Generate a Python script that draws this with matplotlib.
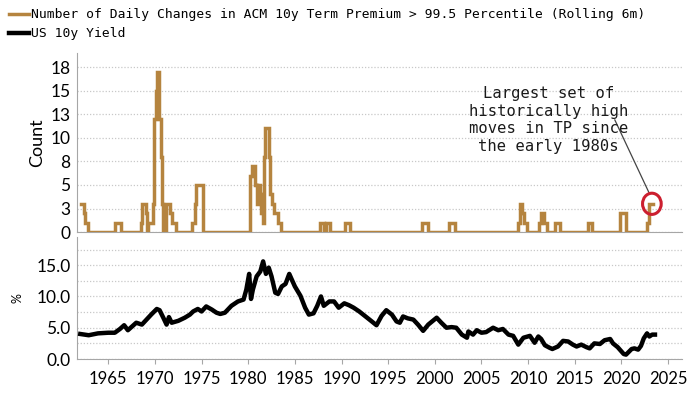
import matplotlib.pyplot as plt
from matplotlib.patches import Ellipse
import numpy as np

# count of daily changes above the 99.5 pct (step series, value holds until next year)
tp_years = [1962.1, 1962.35, 1962.55, 1962.8, 1965.75, 1966.35, 1968.55, 1968.65, 1969.0, 1969.15,
            1969.3, 1969.75, 1969.85, 1969.95, 1970.1, 1970.25, 1970.45, 1970.6, 1970.75, 1970.9,
            1971.2, 1971.65, 1971.8, 1972.3, 1974.0, 1974.3, 1974.45, 1975.15,
            1980.2, 1980.45, 1980.7, 1980.95, 1981.1, 1981.25, 1981.4, 1981.55, 1981.65, 1981.8,
            1982.2, 1982.35, 1982.55, 1982.8, 1983.15, 1983.5,
            1987.7, 1988.15, 1988.35, 1988.8, 1990.4, 1990.95, 1998.6, 1999.3, 2001.5, 2002.2,
            2008.9, 2009.1, 2009.4, 2009.6, 2009.9, 2011.2, 2011.35, 2011.7, 2012.0, 2012.9, 2013.4,
            2016.4, 2016.9, 2019.9, 2020.5, 2022.75, 2022.95, 2023.35]
tp_counts = [3, 2, 1, 0, 1, 0, 1, 3, 2, 0,
             1, 3, 8, 12, 15, 17, 12, 8, 3, 0,
             3, 2, 1, 0, 1, 3, 5, 0,
             6, 7, 5, 3, 5, 4, 2, 1, 8, 11,
             8, 4, 3, 2, 1, 0,
             1, 0, 1, 0, 1, 0, 1, 0, 1, 0,
             1, 3, 2, 1, 0, 1, 2, 1, 0, 1, 0,
             1, 0, 2, 0, 1, 3, 3]

count_ticks = [0, 2.5, 5, 7.5, 10, 12.5, 15, 17.5]
count_tick_labels = ["0", "3", "5", "8", "10", "13", "15", "18"]

# US 10y yield
yield_years = [1962.0, 1962.9, 1963.9, 1965.0, 1965.7, 1966.25, 1966.7, 1967.1, 1967.7, 1968.0,
               1968.6, 1969.1, 1969.6, 1970.2, 1970.5, 1970.9, 1971.25, 1971.5, 1971.8, 1972.5,
               1973.2, 1973.75, 1974.1, 1974.6, 1975.0, 1975.5, 1976.1, 1976.6, 1977.0, 1977.5,
               1978.2, 1978.9, 1979.5, 1979.8, 1980.1, 1980.3, 1980.5, 1980.9, 1981.3, 1981.6,
               1981.9, 1982.2, 1982.5, 1982.9, 1983.2, 1983.6, 1984.0, 1984.4, 1984.7, 1985.0,
               1985.6, 1986.1, 1986.5, 1987.0, 1987.4, 1987.8, 1988.1, 1988.7, 1989.2, 1989.7,
               1990.3, 1990.8, 1991.3, 1991.9, 1992.5, 1993.0, 1993.75, 1994.3, 1994.8, 1995.4,
               1995.9, 1996.25, 1996.6, 1997.1, 1997.7, 1998.2, 1998.75, 1999.3, 1999.8, 2000.2,
               2000.7, 2001.25, 2001.8, 2002.3, 2002.9, 2003.45, 2003.6, 2004.1, 2004.5, 2005.0,
               2005.5, 2006.25, 2006.8, 2007.3, 2007.9, 2008.4, 2008.95, 2009.5, 2010.2, 2010.7,
               2011.1, 2011.4, 2011.8, 2012.3, 2012.6, 2013.2, 2013.75, 2014.3, 2014.8, 2015.2,
               2015.7, 2016.25, 2016.6, 2017.1, 2017.7, 2018.2, 2018.8, 2019.1, 2019.6, 2020.25,
               2020.5, 2021.1, 2021.4, 2021.8, 2022.1, 2022.4, 2022.75, 2023.0, 2023.3, 2023.6]
yield_vals = [4.0, 3.8, 4.1, 4.2, 4.2, 4.8, 5.4, 4.6, 5.4, 5.8,
              5.5, 6.3, 7.1, 8.0, 7.8, 6.6, 5.5, 6.7, 5.8, 6.1,
              6.6, 7.1, 7.6, 8.0, 7.6, 8.4, 7.9, 7.4, 7.2, 7.4,
              8.5, 9.2, 9.5, 11.1, 13.6, 9.6, 11.1, 13.2, 14.0, 15.6,
              13.6, 14.6, 13.2, 10.6, 10.4, 11.6, 12.0, 13.6, 12.6, 11.6,
              10.1, 8.2, 7.1, 7.3, 8.5, 10.0, 8.5, 9.2, 9.2, 8.2,
              8.9, 8.6, 8.2, 7.6, 6.9, 6.3, 5.4, 6.9, 7.8, 7.1,
              6.0, 5.8, 6.8, 6.5, 6.3, 5.5, 4.5, 5.5, 6.1, 6.6,
              5.8, 5.0, 5.1, 5.0, 3.9, 3.4, 4.4, 3.9, 4.6, 4.2,
              4.3, 5.0, 4.6, 4.8, 3.9, 3.7, 2.3, 3.4, 3.7, 2.6,
              3.6, 3.2, 2.2, 1.8, 1.6, 2.0, 2.9, 2.8, 2.3, 2.0,
              2.3, 1.9, 1.7, 2.5, 2.4, 3.0, 3.2, 2.5, 1.9, 0.8,
              0.7, 1.6, 1.7, 1.5, 2.1, 3.3, 4.1, 3.6, 3.9, 3.9]

year_ticks = [1965, 1970, 1975, 1980, 1985, 1990, 1995, 2000, 2005, 2010, 2015, 2020, 2025]

tan = "#b5843f"
grid_col = "#c8c8c8"
spine_col = "#a6a6a6"
mono = "DejaVu Sans Mono"

plt.rcParams['font.family'] = ['Lato', 'DejaVu Sans']

fig = plt.figure(figsize=(7, 3.94), dpi=100)
ax1 = fig.add_axes([0.1107, 0.411, 0.8636, 0.4543])
ax2 = fig.add_axes([0.1107, 0.0888, 0.8636, 0.3097], sharex=ax1)

l1, = ax1.plot(tp_years, tp_counts, drawstyle='steps-post', color=tan, linewidth=2.5,
               solid_joinstyle='miter', zorder=3)
l2, = ax2.plot(yield_years, yield_vals, color='black', linewidth=3.2, solid_joinstyle='round', zorder=3)

# top panel
ax1.set_ylim(0, 19)
ax1.set_yticks(count_ticks)
ax1.set_yticklabels(count_tick_labels)
ax1.set_ylabel("Count", fontsize=13, labelpad=4)
ax1.grid(axis='y', linestyle=(0, (1, 1.5)), color=grid_col, linewidth=0.9)
ax1.tick_params(axis='y', length=0, labelsize=12.5, pad=5)
ax1.tick_params(axis='x', which='both', length=0, labelbottom=False)

# bottom panel
ax2.set_ylim(0, 19.5)
ax2.set_yticks([0, 5, 10, 15])
ax2.set_yticklabels(["0.0", "5.0", "10.0", "15.0"])
ax2.set_yticks([2.5, 7.5, 12.5, 17.5], minor=True)
ax2.set_ylabel("%", fontsize=9, labelpad=9)
ax2.grid(axis='y', which='both', linestyle=(0, (1, 1.5)), color=grid_col, linewidth=0.9)
ax2.tick_params(axis='y', which='both', length=0, labelsize=12.5, pad=5)
ax2.set_xticks(year_ticks)
ax2.set_xlim(1961.7, 2026.5)
ax2.tick_params(axis='x', length=3.5, color=spine_col, labelsize=12, pad=5)

for ax in (ax1, ax2):
    ax.spines['top'].set_visible(False)
    ax.spines['right'].set_visible(False)
    ax.spines['left'].set_color(spine_col)
    ax.spines['bottom'].set_color(spine_col)
    ax.set_axisbelow(True)

# callout
ax1.text(2012.2, 11.9, "Largest set of\nhistorically high\nmoves in TP since\nthe early 1980s",
         family=mono, fontsize=11.2, ha='center', va='center', linespacing=1.22, color='#1a1a1a')
ax1.plot([2019.3, 2023.0], [11.9, 4.1], color='#444444', linewidth=0.9)
ax1.add_patch(Ellipse((2023.27, 3.0), 2.0, 2.25, fill=False, edgecolor='#cc1f2f', linewidth=2.2, zorder=4))

fig.legend([l1, l2], ["Number of Daily Changes in ACM 10y Term Premium > 99.5 Percentile (Rolling 6m)",
                      "US 10y Yield"],
           loc='upper left', bbox_to_anchor=(-0.002, 1.005), frameon=False,
           prop={'family': mono, 'size': 9.4}, handlelength=1.5, handletextpad=0.2,
           labelspacing=0.45, borderpad=0.3)

plt.savefig("out.png", dpi=100)
